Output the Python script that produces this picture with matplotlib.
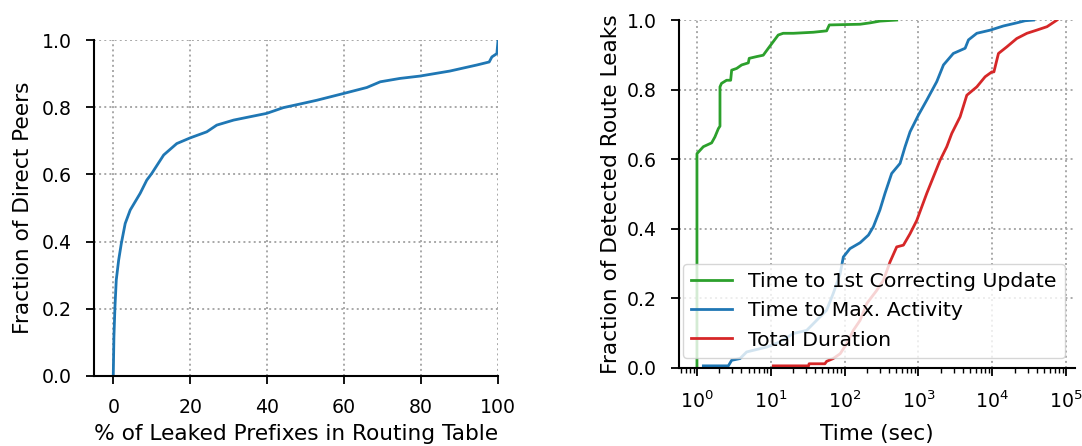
import matplotlib
matplotlib.use('Agg')
import matplotlib.pyplot as plt

# left panel: CDF of leaked prefixes share per direct peer
leak_pct = [0, 0.17, 0.44, 0.78, 1.4, 2.1, 3.1, 4.4, 7.0, 8.7, 10.0, 13.1, 16.5, 20.0,
            24.3, 26.9, 31.3, 39.9, 44.2, 48.6, 52.9, 59.8, 65.9, 69.4, 74.5, 79.7,
            87.5, 94.5, 97.7, 98.4, 99.7, 100]
peer_frac = [0, 0.117, 0.206, 0.286, 0.345, 0.395, 0.454, 0.494, 0.544, 0.583, 0.603,
             0.658, 0.692, 0.709, 0.727, 0.747, 0.762, 0.782, 0.799, 0.810, 0.821, 0.841,
             0.859, 0.876, 0.886, 0.893, 0.908, 0.926, 0.935, 0.950, 0.960, 1.0]

# right panel: CDFs of timing (seconds)
t_correct = [1, 1, 1.05, 1.22, 1.58, 1.75, 1.95, 2.05, 2.05, 2.15, 2.52, 2.86, 2.95, 3.45,
             4.03, 4.96, 5.1, 6.43, 7.9, 9.26, 10.8, 12.6, 14.7, 20.2, 37.7, 57, 62, 162,
             221, 300, 507]
f_correct = [0, 0.616, 0.621, 0.636, 0.647, 0.664, 0.688, 0.695, 0.808, 0.818, 0.827,
             0.827, 0.856, 0.861, 0.871, 0.877, 0.890, 0.895, 0.899, 0.919, 0.938, 0.957,
             0.962, 0.962, 0.965, 0.969, 0.986, 0.988, 0.992, 0.997, 1.0]

t_maxact = [1.22, 2.66, 2.95, 3.83, 4.71, 6.43, 8.8, 13.3, 20.2, 30.6, 41.8, 57, 70, 87,
            96, 118, 162, 210, 245, 300, 352, 433, 563, 658, 769, 998, 1295, 1767, 2178,
            2960, 4280, 4750, 6160, 9340, 14100, 21400, 27700, 36100]
f_maxact = [0.006, 0.006, 0.022, 0.027, 0.046, 0.053, 0.060, 0.075, 0.099, 0.108, 0.137,
            0.166, 0.214, 0.271, 0.319, 0.343, 0.360, 0.382, 0.406, 0.454, 0.502, 0.559,
            0.588, 0.636, 0.679, 0.727, 0.770, 0.823, 0.871, 0.904, 0.919, 0.943, 0.962,
            0.971, 0.983, 0.992, 0.998, 1.0]

t_total = [10.8, 32.5, 33, 54, 57, 70, 87, 107, 131, 162, 199, 272, 335, 412, 507, 625,
           769, 947, 1107, 1295, 1590, 1960, 2415, 2820, 3660, 4510, 6160, 7980, 9840,
           10500, 12100, 15700, 21400, 29400, 39800, 55000, 75000]
f_total = [0.006, 0.006, 0.012, 0.012, 0.019, 0.027, 0.041, 0.070, 0.108, 0.137, 0.185,
           0.223, 0.252, 0.305, 0.348, 0.353, 0.386, 0.424, 0.463, 0.502, 0.549, 0.597,
           0.636, 0.674, 0.722, 0.784, 0.808, 0.837, 0.851, 0.851, 0.904, 0.923, 0.947,
           0.962, 0.971, 0.981, 1.0]

labels = ['Time to 1st Correcting Update', 'Time to Max. Activity', 'Total Duration']

plt.rcParams['font.family'] = 'DejaVu Sans'
plt.rcParams['font.size'] = 15

fig = plt.figure(figsize=(10.82, 4.46), dpi=100)
ax1 = fig.add_axes([0.0869, 0.157, 0.3734, 0.753])
ax2 = fig.add_axes([0.6275, 0.175, 0.366, 0.780])

ax1.plot(leak_pct, peer_frac, color='#1f77b4', lw=2.0)
ax1.set_xlim(-5, 100)
ax1.set_ylim(0, 1)
ax1.set_xlabel('% of Leaked Prefixes in Routing Table', fontsize=15.6, labelpad=5)
ax1.set_ylabel('Fraction of Direct Peers', fontsize=15.6, labelpad=6)

ax2.plot(t_correct, f_correct, color='#2ca02c', lw=2.0, label=labels[0])
ax2.plot(t_maxact, f_maxact, color='#1f77b4', lw=2.0, label=labels[1])
ax2.plot(t_total, f_total, color='#d62728', lw=2.0, label=labels[2])
ax2.set_xscale('log')
ax2.set_ylim(0, 1)
ax2.set_xlabel('Time (sec)', fontsize=15.6, labelpad=9)
ax2.set_ylabel('Fraction of Detected Route Leaks', fontsize=15.6, labelpad=4)
ax2.legend(loc='lower right', fontsize=14.7, framealpha=0.8)

for ax in (ax1, ax2):
    ax.grid(True, linestyle=':', color='#a8a8a8', lw=1.4)
    ax.spines['top'].set_visible(False)
    ax.spines['right'].set_visible(False)
    ax.spines['left'].set_linewidth(1.5)
    ax.spines['bottom'].set_linewidth(1.5)
    ax.tick_params(which='major', length=6, width=1.3, labelsize=13.6, pad=10)
    ax.tick_params(which='minor', length=3.5, width=1.0)
    ax.set_yticks([0, 0.2, 0.4, 0.6, 0.8, 1.0])

fig.savefig('out.png', dpi=100)
